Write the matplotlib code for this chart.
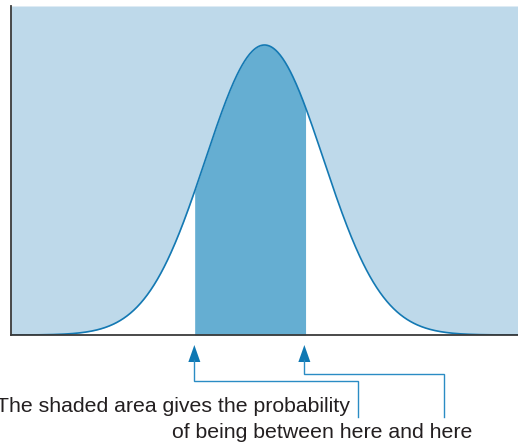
import numpy as np
import matplotlib.pyplot as plt
from matplotlib.patches import Polygon

# standard normal curve, shaded between two z values
mu, sigma = 0.0, 1.0
x_range = [-4.3, 4.3]
shade_lo, shade_hi = -1.19, 0.71
line1 = "The shaded area gives the probability"
line2 = "of being between here and here"

light_blue = "#bed9ea"
mid_blue = "#65aed2"
curve_blue = "#1479b3"
arrow_blue = "#0f78b3"
text_grey = "#231f20"

x = np.linspace(x_range[0], x_range[1], 600)
pdf = np.exp(-0.5 * ((x - mu) / sigma) ** 2) / (sigma * np.sqrt(2 * np.pi))
ymax = pdf.max() * 329 / 290

fig = plt.figure(figsize=(5.18, 4.43), dpi=100)
ax = fig.add_axes([11 / 518, 1 - 335 / 443, 1 - 11 / 518, 329 / 443])
ax.set_xlim(x_range)
ax.set_ylim(0, ymax)

ax.fill_between(x, pdf, ymax, color=light_blue, lw=0)
mask = (x >= shade_lo) & (x <= shade_hi)
ax.fill_between(x[mask], 0, pdf[mask], color=mid_blue, lw=0)
ax.plot(x, pdf, color=curve_blue, lw=1.2)

ax.set_xticks([])
ax.set_yticks([])
for side in ("top", "right"):
    ax.spines[side].set_visible(False)
for side in ("left", "bottom"):
    ax.spines[side].set_color("#3a3a3a")
    ax.spines[side].set_linewidth(1.3)

# overlay in pixel coordinates for the pointers and caption
ov = fig.add_axes([0, 0, 1, 1])
ov.set_xlim(0, 518)
ov.set_ylim(443, 0)
ov.axis("off")
ov.patch.set_alpha(0)

fig.canvas.draw()
px_lo = ax.transData.transform((shade_lo, 0))[0]
px_hi = ax.transData.transform((shade_hi, 0))[0] - 2


def pointer(xp, y_turn, x_end, y_end):
    ov.add_patch(Polygon([[xp, 345], [xp - 6, 362], [xp + 6, 362]],
                         closed=True, color=arrow_blue, lw=0))
    ov.plot([xp, xp, x_end, x_end], [360, y_turn, y_turn, y_end],
            color="#2a8cc4", lw=1.0, solid_joinstyle="miter")


pointer(px_lo, 381, 358, 417)
pointer(px_hi, 374, 444, 417)

ov.text(350, 406, line1, ha="right", va="center", fontsize=15.3,
        family="Liberation Sans", color=text_grey)
ov.text(172, 432, line2, ha="left", va="center", fontsize=15.3,
        family="Liberation Sans", color=text_grey)

fig.savefig("out.png", dpi=100)
